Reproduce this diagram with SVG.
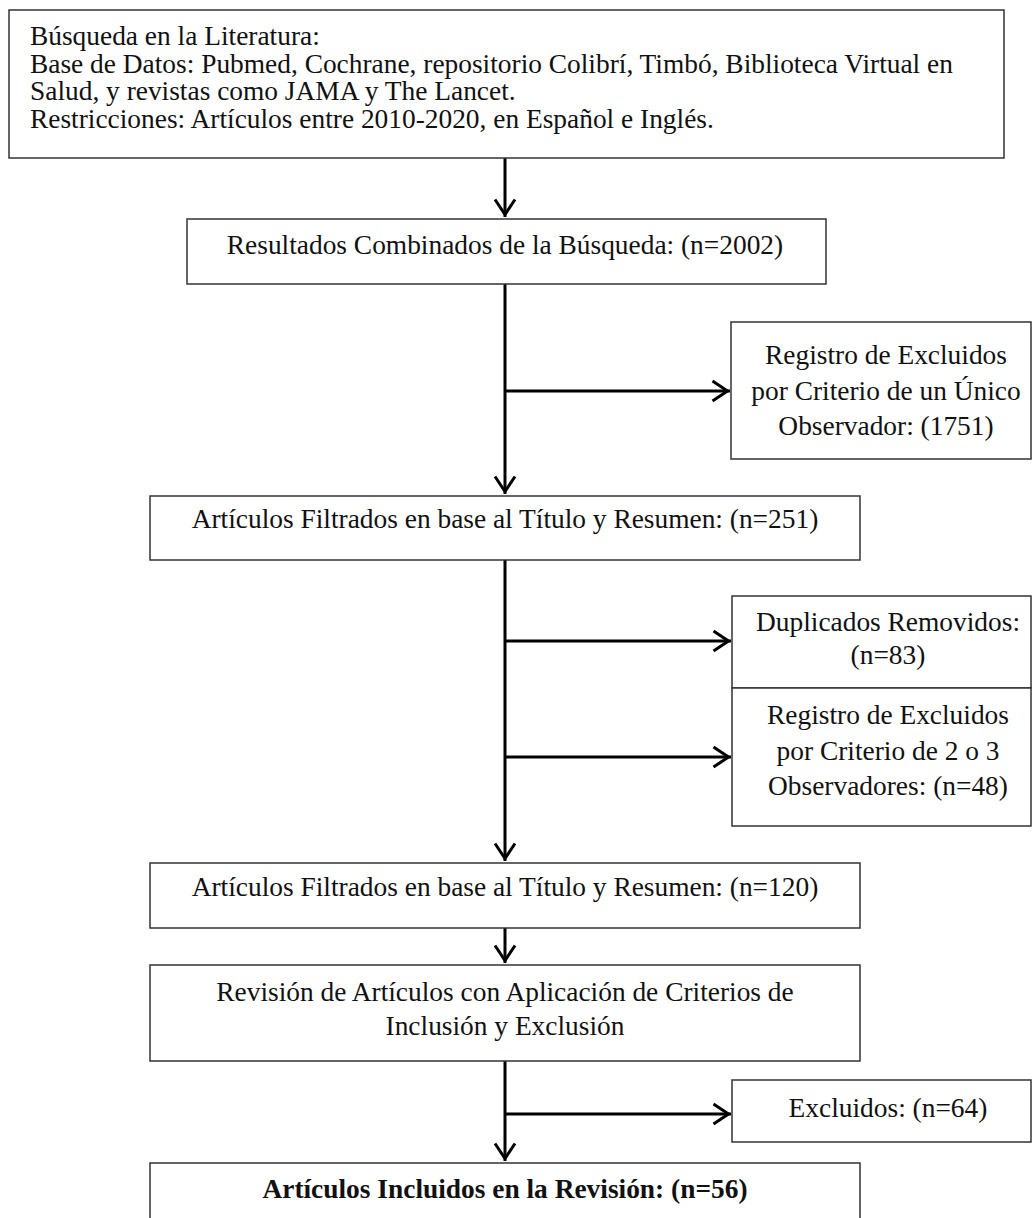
<svg xmlns="http://www.w3.org/2000/svg" width="1035" height="1218" viewBox="0 0 1035 1218">
<style>
.box{fill:#fff;stroke:#333;stroke-width:1.5}
.t{font-family:"Liberation Serif","Times New Roman",serif;font-size:27.4px;fill:#111}
.c{text-anchor:middle}
.b{font-weight:bold}
.con{fill:none;stroke:#000;stroke-width:3}
</style>
<defs>
<marker id="ah" markerUnits="userSpaceOnUse" viewBox="-18 -13 22 26" markerWidth="22" markerHeight="26" refX="2.5" refY="0" orient="auto">
<path d="M-15,-10 L0,0 L-15,10" fill="none" stroke="#000" stroke-width="3"/>
</marker>
</defs>
<rect width="1035" height="1218" fill="#fff"/>
<g id="connectors">
<path class="con" d="M505,158 V217" marker-end="url(#ah)"/>
<path class="con" d="M505,284 V494" marker-end="url(#ah)"/>
<path class="con" d="M505,391 H730" marker-end="url(#ah)"/>
<path class="con" d="M505,560 V861" marker-end="url(#ah)"/>
<path class="con" d="M505,641 H731" marker-end="url(#ah)"/>
<path class="con" d="M505,757 H731" marker-end="url(#ah)"/>
<path class="con" d="M505,928 V963" marker-end="url(#ah)"/>
<path class="con" d="M505,1061 V1161" marker-end="url(#ah)"/>
<path class="con" d="M505,1114 H731" marker-end="url(#ah)"/>
</g>
<g id="n1">
<rect class="box" x="9" y="10" width="995" height="148"/>
<text class="t" x="30" y="45">Búsqueda en la Literatura:</text>
<text class="t" x="30" y="72.5">Base de Datos: Pubmed, Cochrane, repositorio Colibrí, Timbó, Biblioteca Virtual en</text>
<text class="t" x="30" y="100">Salud, y revistas como JAMA y The Lancet.</text>
<text class="t" x="30" y="127.5">Restricciones: Artículos entre 2010-2020, en Español e Inglés.</text>
</g>
<g id="n2">
<rect class="box" x="187" y="219" width="639" height="65"/>
<text class="t c" x="505" y="254">Resultados Combinados de la Búsqueda: (n=2002)</text>
</g>
<g id="n3">
<rect class="box" x="731" y="322" width="300" height="137"/>
<text class="t c" x="886" y="364">Registro de Excluidos</text>
<text class="t c" x="886" y="400">por Criterio de un Único</text>
<text class="t c" x="886" y="435">Observador: (1751)</text>
</g>
<g id="n4">
<rect class="box" x="150" y="496" width="710" height="64"/>
<text class="t c" x="505" y="528">Artículos Filtrados en base al Título y Resumen: (n=251)</text>
</g>
<g id="n5">
<rect class="box" x="732" y="596" width="299" height="92"/>
<text class="t c" x="888" y="631">Duplicados Removidos:</text>
<text class="t c" x="888" y="664">(n=83)</text>
</g>
<g id="n6">
<rect class="box" x="732" y="688" width="299" height="138"/>
<text class="t c" x="888" y="724">Registro de Excluidos</text>
<text class="t c" x="888" y="760">por Criterio de 2 o 3</text>
<text class="t c" x="888" y="795">Observadores: (n=48)</text>
</g>
<g id="n7">
<rect class="box" x="150" y="863" width="710" height="65"/>
<text class="t c" x="505" y="896">Artículos Filtrados en base al Título y Resumen: (n=120)</text>
</g>
<g id="n8">
<rect class="box" x="150" y="965" width="710" height="96"/>
<text class="t c" x="505" y="1001">Revisión de Artículos con Aplicación de Criterios de</text>
<text class="t c" x="505" y="1035">Inclusión y Exclusión</text>
</g>
<g id="n9">
<rect class="box" x="732" y="1080" width="299" height="62"/>
<text class="t c" x="888" y="1117">Excluidos: (n=64)</text>
</g>
<g id="n10">
<rect class="box" x="150" y="1163" width="710" height="70"/>
<text class="t c b" x="505" y="1198">Artículos Incluidos en la Revisión: (n=56)</text>
</g>
</svg>
